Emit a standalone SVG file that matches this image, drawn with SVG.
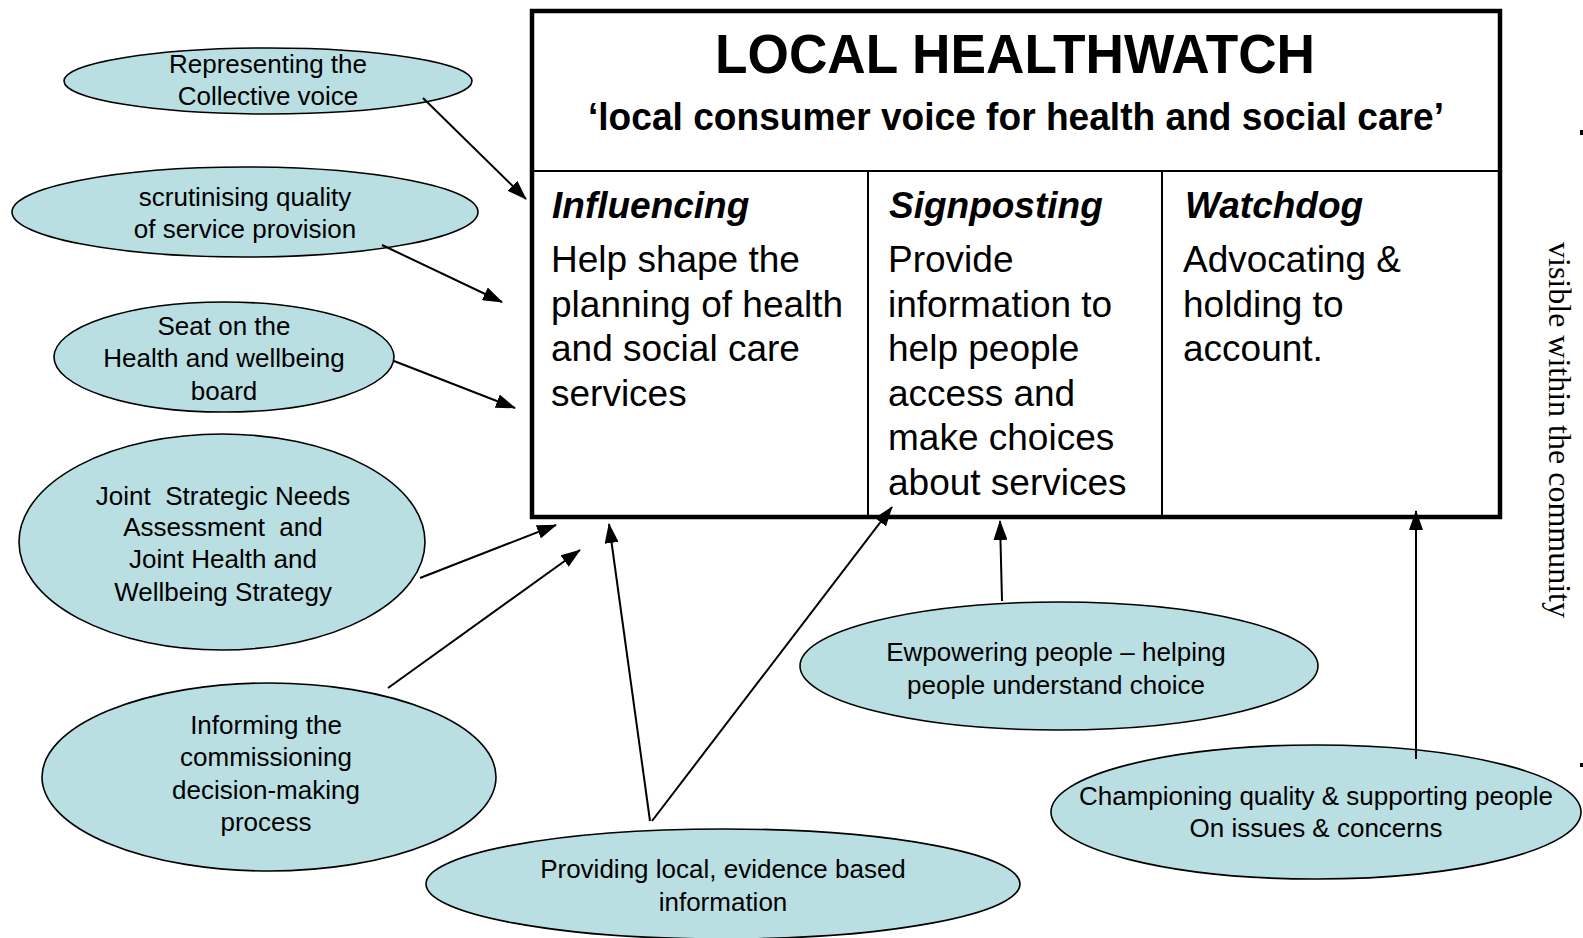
<svg xmlns="http://www.w3.org/2000/svg" width="1583" height="938" viewBox="0 0 1583 938">
<style>
.ell{fill:#b9dfe2;stroke:#000;stroke-width:1.6}
.et{font-family:"Liberation Sans",Arial,sans-serif;font-size:26px;fill:#000;text-anchor:middle}
.hd{font-family:"Liberation Sans",Arial,sans-serif;font-size:37px;font-weight:bold;font-style:italic;fill:#000}
.bd{font-family:"Liberation Sans",Arial,sans-serif;font-size:37px;fill:#000}
.con{stroke:#000;stroke-width:2;fill:none;marker-end:url(#ah)}
</style>
<defs>
<marker id="ah" viewBox="0 0 20 14" refX="19" refY="7" markerWidth="20" markerHeight="14" markerUnits="userSpaceOnUse" orient="auto">
<path d="M0,0 L20,7 L0,14 Z" fill="#000"/>
</marker>
</defs>
<rect width="1583" height="938" fill="#fff"/>

<g id="main-box">
<rect x="532" y="11" width="968" height="506" fill="#fff" stroke="#000" stroke-width="4.5"/>
<line x1="532" y1="171" x2="1500" y2="171" stroke="#000" stroke-width="2"/>
<line x1="868" y1="171" x2="868" y2="517" stroke="#000" stroke-width="2"/>
<line x1="1162" y1="171" x2="1162" y2="517" stroke="#000" stroke-width="2"/>
<text x="1015" y="73" font-family="'Liberation Sans',Arial,sans-serif" font-size="56" font-weight="bold" text-anchor="middle" textLength="600" lengthAdjust="spacingAndGlyphs">LOCAL HEALTHWATCH</text>
<text x="1016" y="130" font-family="'Liberation Sans',Arial,sans-serif" font-size="39" font-weight="bold" text-anchor="middle" textLength="856" lengthAdjust="spacingAndGlyphs">‘local consumer voice for health and social care’</text>
</g>

<g id="col-influencing">
<text class="hd" x="552" y="218">Influencing</text>
<text class="bd" x="551"><tspan x="551" y="272">Help shape the</tspan><tspan x="551" y="317">planning of health</tspan><tspan x="551" y="361">and social care</tspan><tspan x="551" y="406">services</tspan></text>
</g>
<g id="col-signposting">
<text class="hd" x="889" y="218">Signposting</text>
<text class="bd"><tspan x="888" y="272">Provide</tspan><tspan x="888" y="317">information to</tspan><tspan x="888" y="361">help people</tspan><tspan x="888" y="406">access and</tspan><tspan x="888" y="450">make choices</tspan><tspan x="888" y="495">about services</tspan></text>
</g>
<g id="col-watchdog">
<text class="hd" x="1185" y="218">Watchdog</text>
<text class="bd"><tspan x="1183" y="272">Advocating &amp;</tspan><tspan x="1183" y="317">holding to</tspan><tspan x="1183" y="361">account.</tspan></text>
</g>

<g id="side-text">
<text transform="translate(1549,242) rotate(90)" font-family="'Liberation Serif','Times New Roman',serif" font-size="32" fill="#000">visible within the community</text>
<rect x="1580" y="130" width="3" height="5" fill="#000"/>
<rect x="1580" y="763" width="3" height="4" fill="#000"/>
</g>

<g id="n-representing">
<ellipse class="ell" cx="268" cy="81" rx="204" ry="33"/>
<text class="et"><tspan x="268" y="73">Representing the</tspan><tspan x="268" y="105">Collective voice</tspan></text>
</g>
<g id="n-scrutinising">
<ellipse class="ell" cx="245" cy="212" rx="233" ry="45"/>
<text class="et"><tspan x="245" y="206">scrutinising quality</tspan><tspan x="245" y="238">of service provision</tspan></text>
</g>
<g id="n-seat">
<ellipse class="ell" cx="224" cy="357" rx="170" ry="55"/>
<text class="et"><tspan x="224" y="335">Seat on the</tspan><tspan x="224" y="367">Health and wellbeing</tspan><tspan x="224" y="400">board</tspan></text>
</g>
<g id="n-jsna">
<ellipse class="ell" cx="222" cy="542" rx="203" ry="108"/>
<text class="et" xml:space="preserve"><tspan x="223" y="505">Joint  Strategic Needs</tspan><tspan x="223" y="536">Assessment  and</tspan><tspan x="223" y="568">Joint Health and</tspan><tspan x="223" y="601">Wellbeing Strategy</tspan></text>
</g>
<g id="n-informing">
<ellipse class="ell" cx="269" cy="777" rx="227" ry="94"/>
<text class="et"><tspan x="266" y="734">Informing the</tspan><tspan x="266" y="766">commissioning</tspan><tspan x="266" y="799">decision-making</tspan><tspan x="266" y="831">process</tspan></text>
</g>
<g id="n-providing">
<ellipse class="ell" cx="723" cy="884" rx="297" ry="55"/>
<text class="et"><tspan x="723" y="878">Providing local, evidence based</tspan><tspan x="723" y="911">information</tspan></text>
</g>
<g id="n-empowering">
<ellipse class="ell" cx="1059" cy="666" rx="259" ry="64"/>
<text class="et"><tspan x="1056" y="661">Ewpowering people – helping</tspan><tspan x="1056" y="694">people understand choice</tspan></text>
</g>
<g id="n-championing">
<ellipse class="ell" cx="1316" cy="812" rx="265" ry="67"/>
<text class="et"><tspan x="1316" y="805">Championing quality &amp; supporting people</tspan><tspan x="1316" y="837">On issues &amp; concerns</tspan></text>
</g>

<g id="connectors">
<line class="con" x1="423" y1="98" x2="526" y2="199"/>
<line class="con" x1="382" y1="245" x2="502" y2="302"/>
<line class="con" x1="394" y1="361" x2="515" y2="408"/>
<line class="con" x1="420" y1="578" x2="556" y2="525"/>
<line class="con" x1="388" y1="688" x2="580" y2="550"/>
<line class="con" x1="650" y1="821" x2="609" y2="524"/>
<line class="con" x1="652" y1="821" x2="892" y2="507"/>
<line class="con" x1="1002" y1="601" x2="1000" y2="521"/>
<line class="con" x1="1416" y1="759" x2="1416" y2="511"/>
</g>
</svg>
